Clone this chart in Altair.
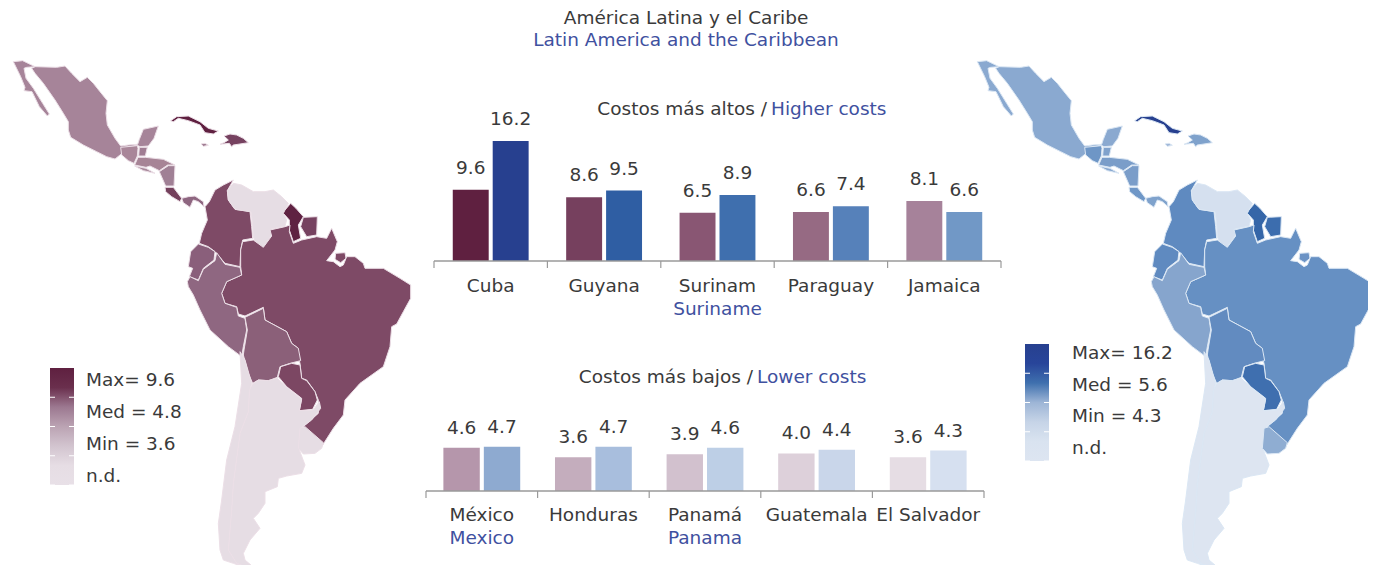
import altair as alt
import pandas as pd

FONT = "DejaVu Sans"
FS = 18.5
INK = "#3a3a3a"
BLUE = "#3f51a0"

# ---------- bar data ----------
high_es = ["Cuba", "Guyana", "Surinam", "Paraguay", "Jamaica"]
high_en = ["", "", "Suriname", "", ""]
high_v_es = [9.6, 8.6, 6.5, 6.6, 8.1]
high_v_en = [16.2, 9.5, 8.9, 7.4, 6.6]
high_c_es = ["#5f2040", "#76405e", "#895673", "#966a83", "#a6829a"]
high_c_en = ["#27408f", "#2f5ea3", "#3f6fae", "#5681ba", "#7198c6"]

low_es = ["México", "Honduras", "Panamá", "Guatemala", "El Salvador"]
low_en = ["Mexico", "", "Panama", "", ""]
low_v_es = [4.6, 3.6, 3.9, 4.0, 3.6]
low_v_en = [4.7, 4.7, 4.6, 4.4, 4.3]
low_c_es = ["#b596ab", "#c4adbd", "#d2c1ce", "#ddd0da", "#e6dde4"]
low_c_en = ["#8eaad0", "#a8bedd", "#bdcfe6", "#c9d6ea", "#d6e0f0"]

def z1(p): return [[0 + x / 3, 50 + y / 3] for x, y in p]
def z2(p): return [[170 + x / 3, 170 + y / 3] for x, y in p]
def z3(p): return [[190 + x / 3, 350 + y / 3] for x, y in p]

shapes = {
 "Mexico": z1([(105,50),(170,52),(195,48),(215,70),(240,95),(262,82),(280,100),(300,125),(322,152),(318,190),(322,225),(345,265),(362,288),(385,285),(413,283),(418,268),(430,238),(475,228),(462,265),(445,288),(420,290),(412,286),(390,290),(360,315),(345,327),(320,320),(290,305),(250,285),(212,262),(205,240),(205,215),(190,190),(165,150),(130,100),(105,70),(95,55)]),
 "Baja": z1([(40,35),(68,32),(105,50),(80,52),(72,55),(78,85),(100,115),(128,160),(148,192),(142,198),(118,170),(96,125),(72,122),(75,112),(62,80)]),
 "Guatemala": z1([(362,292),(412,287),(414,295),(412,318),(402,340),(385,332),(365,315)]),
 "Belize": z1([(418,292),(442,292),(436,318),(416,318)]),
 "Honduras": z1([(436,322),(490,328),(525,345),(503,345),(478,362),(450,348),(438,352),(404,345),(414,322)]),
 "ElSalvador": z1([(404,348),(438,355),(465,370),(430,362)]),
 "Nicaragua": z1([(478,365),(505,347),(525,347),(522,408),(497,408)]),
 "CostaRica": z1([(495,412),(520,412),(545,445),(540,455),(515,440),(497,425)]),
 "Panama": z1([(545,445),(565,440),(585,438),(610,455),(612,470),(595,455),(580,450),(570,472),(550,458)]),
 "Cuba": z1([(512,212),(530,200),(565,198),(600,215),(625,235),(655,243),(640,252),(615,248),(600,225),(565,212),(535,205),(520,215)]),
 "Hispaniola": z1([(672,258),(690,252),(710,255),(730,265),(745,278),(720,282),(700,285),(695,290),(688,280),(660,283),(672,278),(685,270)]),
 "Jamaica": z1([(603,282),(615,280),(625,286),(610,289)]),
 "Colombia": z2([(190,30),(160,45),(135,60),(118,95),(105,110),(112,150),(95,190),(88,220),(115,230),(135,245),(165,280),(210,290),(212,240),(218,210),(248,205),(245,170),(240,125),(195,118),(175,90),(172,62)]),
 "Venezuela": z2([(172,62),(190,40),(215,45),(250,65),(285,65),(310,60),(335,80),(355,100),(340,130),(350,150),(345,168),(300,178),(305,195),(280,230),(260,225),(250,200),(248,165),(243,125),(195,118),(175,90)]),
 "Guyana": z2([(362,100),(378,115),(400,140),(385,165),(392,205),(370,215),(358,180),(358,150),(340,130),(345,120)]),
 "Suriname": z2([(400,142),(442,140),(440,195),(410,200),(392,170)]),
 "Guiana": z2([(497,250),(525,248),(528,265),(512,278),(495,268)]),
 "Brazil": z2([(250,210),(280,232),(305,198),(300,180),(345,170),(360,165),(358,185),(370,220),(395,210),(440,200),(470,205),(485,175),(502,215),(495,240),(470,272),(490,275),(510,290),(520,285),(530,260),(555,260),(580,280),(585,295),(640,295),(690,325),(722,345),(722,385),(700,425),(680,462),(665,470),(660,530),(640,590)])
   + z3([(510,100),(465,150),(460,195),(430,235),(395,290),(340,230),(385,190),(385,150),(375,125),(350,90),(335,85),(330,40),(320,10)])
   + z2([(385,535),(365,520),(350,485),(285,450),(280,412),(225,438),(205,432),(200,410),(165,400),(155,370),(170,335),(215,315),(212,290),(212,240),(218,215)]),
 "Ecuador": z2([(85,222),(115,232),(135,245),(132,270),(100,295),(85,330),(58,320),(68,295),(55,290),(62,245)]),
 "Peru": z2([(52,335),(60,320),(85,332),(100,298),(135,272),(140,248),(165,283),(210,292),(215,315),(170,335),(155,370),(165,400),(200,412),(205,438),(225,445),(230,480),(220,530),(215,560),(175,530),(120,480),(90,420),(70,375),(55,350)]),
 "Bolivia": z2([(225,442),(280,415),(285,450),(350,485),(365,520),(385,535),(392,572)])
   + z3([(300,40),(270,50),(262,82),(235,92),(205,90),(188,100),(175,70),(160,15)])
   + z2([(222,540),(232,480)]),
 "Paraguay": z3([(265,80),(272,50),(305,40),(330,45),(335,85),(350,92),(375,125),(382,150),(368,178),(328,182),(335,145),(290,110)]),
 "Argentina": z3([(188,102),(205,90),(235,92),(262,85),(290,112),(335,148),(328,182),(370,180),(388,155),(392,175),(365,210),(335,232),(328,300),(345,345),(335,370),(290,378),(265,385),(262,410),(225,425),(225,460),(205,490),(190,505),(210,535),(180,570),(160,610),(165,630),(210,668),(140,640),(115,600),(125,480),(130,400),(150,250),(175,185),(178,120)]),
 "Chile": z3([(150,5),(165,30),(185,100),(178,125),(175,185),(150,250),(130,400),(125,480),(115,600),(140,640),(200,665),(130,640),(100,630),(90,600),(85,520),(95,450),(100,410),(110,330),(135,230),(155,100)]),
 "Uruguay": z3([(330,235),(345,230),(400,278),(395,295),(375,310),(340,312),(325,295)]),
}

map_keys = list(shapes)
map_left = ["#a68499","#a68499","#a98699","#a07d93","#a78496","#a98a9c","#a08095","#74405c","#8e6680","#5f2040","#764260","#9d7a90","#7e4a66","#e6dde4","#5f2242","#764260","#7e4a66","#7e4a66","#8a5f7b","#8f6781","#8b6079","#7c4763","#e6dde4","#e6dde4","#e6dde4"]
map_right = ["#8aa9d0","#8aa9d0","#6e96c6","#80a2cc","#7a9dc9","#88a8d0","#7a9dc9","#6f97c7","#7fa2cc","#27408f","#7fa2cc","#9fb6d7","#5f8ac0","#d5e0ef","#3566a8","#3c6dae","#6b93c5","#6690c3","#5f8ac0","#86a5cd","#628bc0","#3f6faf","#dde5f1","#dde5f1","#8fadd2"]
MAP_SHIFT = 964

leg_l_labels = ["Max= 9.6", "Med = 4.8", "Min = 3.6", "n.d."]
leg_r_labels = ["Max= 16.2", "Med = 5.6", "Min = 4.3", "n.d."]
leg_l_stops = ["#5f2040", "#6a2f4d", "#9c7890", "#bba3b3", "#d2c4cf", "#e6dde4", "#e8e0e7"]
leg_r_stops = ["#27408f", "#28459a", "#3f70ae", "#9db5d6", "#c6d4e7", "#d9e3f0", "#dde5f1"]
tick_idx = [1, 2, 3, 4]

W, H = 1360, 557
layers = []

def px(v): return v - 8

def feats(shift):
    out = []
    for k in map_keys:
        ring = [[x + shift, y] for x, y in shapes[k]]
        ring.append(ring[0])
        out.append({"type": "Feature", "properties": {"key": k},
                    "geometry": {"type": "Polygon", "coordinates": [ring]}})
    return out

def map_layer(shift, colors, stroke):
    return (alt.Chart(alt.Data(values=feats(shift)))
            .mark_geoshape(stroke=stroke, strokeWidth=1)
            .encode(color=alt.Color("properties.key:N", legend=None,
                                    scale=alt.Scale(domain=map_keys, range=colors)))
            .project(type="identity", scale=1, translate=[-8, -8]))

layers.append(map_layer(0, map_left, "#ecdfe7"))
layers.append(map_layer(MAP_SHIFT, map_right, "#dbe7f4"))

def text_value(txt, x, y, color=INK, align="center", size=FS):
    return (alt.Chart(pd.DataFrame({"t": [txt]}))
            .mark_text(font=FONT, fontSize=size, color=color, align=align, baseline="middle")
            .encode(text="t:N", x=alt.value(px(x)), y=alt.value(px(y))))

def legend(x0, x1, y0, y1, labels, stops, label_x, lab0, lab1):
    g = alt.Gradient(gradient="linear", x1=0, x2=0, y1=0, y2=1,
                     stops=[alt.GradientStop(offset=i / (len(stops) - 1), color=c) for i, c in enumerate(stops)])
    out = [alt.Chart(pd.DataFrame({"a": [0]})).mark_rect(fill=g).encode(
        x=alt.value(px(x0)), x2=alt.value(px(x1)), y=alt.value(px(y0)), y2=alt.value(px(y1)))]
    yq = alt.Scale(domain=[0, 4], range=[px(y0), px(y1)], nice=False, zero=False)
    tk = pd.DataFrame({"i": tick_idx})
    for a, b in ((x0, x0 + 5), (x1 - 5, x1)):
        out.append(alt.Chart(tk).mark_rule(color="white", strokeWidth=1).encode(
            y=alt.Y("i:Q", scale=yq, axis=None), x=alt.value(px(a)), x2=alt.value(px(b))))
    out.append(alt.Chart(pd.DataFrame({"t": labels})).mark_text(
        font=FONT, fontSize=FS, color=INK, align="left", baseline="middle").encode(
        text="t:N", x=alt.value(px(label_x)),
        y=alt.Y("t:N", sort=labels, axis=None,
                scale=alt.Scale(domain=labels, range=[px(lab0), px(lab1)], paddingInner=0, paddingOuter=0))))
    return out

layers += legend(50, 74, 368, 485, leg_l_labels, leg_l_stops, 86, 364, 492)
layers += legend(1025, 1049, 344, 461, leg_r_labels, leg_r_stops, 1072, 337, 464)

def bars(names, en, v_es, v_en, c_es, c_en, x0, x1, base, ppu, pad_o, lab_up, dy1, dy2):
    rows = []
    for i, n in enumerate(names):
        rows.append({"p": n, "s": "es", "v": v_es[i], "k": n + "|es"})
        rows.append({"p": n, "s": "en", "v": v_en[i], "k": n + "|en"})
    df = pd.DataFrame(rows)
    keys = [r["k"] for r in rows]
    cols = [c for pair in zip(c_es, c_en) for c in pair]
    top = 18.0
    ys = alt.Scale(domain=[0, top], range=[px(base), px(base) - top * ppu], nice=False, zero=False)
    xs = alt.Scale(domain=names, range=[px(x0), px(x1)], paddingInner=0, paddingOuter=0)
    xq = alt.Scale(domain=[0, len(names)], range=[px(x0), px(x1)], nice=False, zero=False)
    xo = alt.Scale(domain=["es", "en"], paddingInner=0.1, paddingOuter=pad_o)
    xo_text = alt.Scale(type="point", domain=["es", "en"], padding=0.45 + pad_o)
    X = alt.X("p:N", scale=xs, axis=None, sort=names)
    Y = alt.Y("v:Q", scale=ys, axis=None)
    out = []
    out.append(alt.Chart(df).mark_bar().encode(
        x=X, xOffset=alt.XOffset("s:N", scale=xo, sort=["es", "en"]), y=Y, y2=alt.Y2(datum=0),
        color=alt.Color("k:N", legend=None, scale=alt.Scale(domain=keys, range=cols))))
    out.append(alt.Chart(df).mark_text(font=FONT, fontSize=FS, color=INK, baseline="middle", dy=-lab_up).encode(
        x=X, xOffset=alt.XOffset("s:N", scale=xo_text, sort=["es", "en"]), y=Y,
        text=alt.Text("v:Q", format=".1f")))
    tick = 7 / ppu
    out.append(alt.Chart(pd.DataFrame({"a": [0]})).mark_rule(color="#9a9a9a", strokeWidth=1.6).encode(
        x=alt.X(datum=0, scale=xq, axis=None), x2=alt.X2(datum=len(names)),
        y=alt.Y(datum=0, scale=ys, axis=None)))
    out.append(alt.Chart(pd.DataFrame({"i": list(range(len(names) + 1))})).mark_rule(color="#9a9a9a", strokeWidth=1.2).encode(
        x=alt.X("i:Q", scale=xq, axis=None),
        y=alt.Y(datum=0, scale=ys, axis=None), y2=alt.Y2(datum=-tick)))
    lab = pd.DataFrame({"p": names, "en": en})
    out.append(alt.Chart(lab).mark_text(font=FONT, fontSize=FS, color=INK, baseline="middle", dy=dy1).encode(
        x=X, y=alt.Y(datum=0, scale=ys, axis=None), text="p:N"))
    out.append(alt.Chart(lab).mark_text(font=FONT, fontSize=FS, color=BLUE, baseline="middle", dy=dy2).encode(
        x=X, y=alt.Y(datum=0, scale=ys, axis=None), text="en:N"))
    return out

layers += bars(high_es, high_en, high_v_es, high_v_en, high_c_es, high_c_en, 434, 1001, 261, 7.41, 0.47, 22, 25, 48)
layers += bars(low_es, low_en, low_v_es, low_v_en, low_c_es, low_c_en, 426, 984, 491, 9.4, 0.43, 20, 24, 47)

layers += [
    text_value("América Latina y el Caribe", 686, 18),
    text_value("Latin America and the Caribbean", 686, 40, BLUE),
    text_value("Costos más altos /", 767, 109, align="right"),
    text_value("Higher costs", 771, 109, BLUE, align="left"),
    text_value("Costos más bajos /", 753, 377, align="right"),
    text_value("Lower costs", 757, 377, BLUE, align="left"),
]

chart = (alt.layer(*layers)
         .resolve_scale(x="independent", y="independent", color="independent", xOffset="independent")
         .properties(width=W, height=H, padding=0, autosize=alt.AutoSizeParams(type="none"))
         .configure_view(stroke=None))

chart.save("out.html", embed_options={"renderer": "svg", "actions": False})
